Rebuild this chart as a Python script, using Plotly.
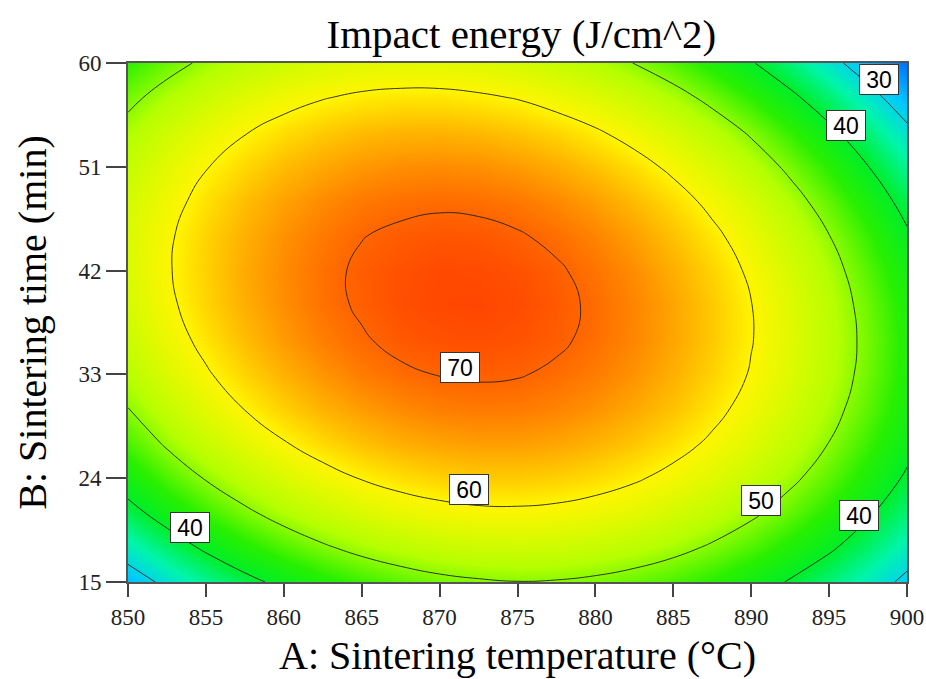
import plotly.graph_objects as go

# Grid positions
temperature = [850, 852.5, 855, 857.5, 860, 862.5, 865, 867.5, 870, 872.5, 875,
               877.5, 880, 882.5, 885, 887.5, 890, 892.5, 895, 897.5, 900]
sinter_time = [15, 18, 21, 24, 27, 30, 33, 36, 39, 42, 45, 48, 51, 54, 57, 60]

# Impact energy (J/cm^2) at each grid node (one row per sintering time)
energy_t15 = [27.0, 31.3, 35.1, 38.5, 41.4, 43.9, 46.0, 47.6, 48.8, 49.5, 49.9, 49.7, 49.1, 48.1, 46.7, 44.8, 42.4, 39.6, 36.4, 32.8, 28.7]
energy_t18 = [32.9, 37.1, 40.9, 44.2, 47.0, 49.4, 51.4, 52.9, 54.0, 54.7, 54.9, 54.7, 54.0, 52.9, 51.4, 49.4, 47.0, 44.1, 40.8, 37.1, 32.9]
energy_t21 = [38.2, 42.3, 45.9, 49.1, 51.9, 54.2, 56.1, 57.6, 58.6, 59.2, 59.3, 59.0, 58.2, 57.1, 55.4, 53.4, 50.9, 47.9, 44.5, 40.7, 36.4]
energy_t24 = [42.7, 46.8, 50.3, 53.4, 56.1, 58.4, 60.2, 61.6, 62.5, 63.0, 63.0, 62.6, 61.8, 60.5, 58.8, 56.7, 54.1, 51.0, 47.6, 43.6, 39.3]
energy_t27 = [46.6, 50.6, 54.0, 57.1, 59.7, 61.9, 63.6, 64.9, 65.7, 66.1, 66.1, 65.6, 64.7, 63.3, 61.5, 59.3, 56.6, 53.5, 49.9, 45.9, 41.5]
energy_t30 = [49.9, 53.7, 57.1, 60.1, 62.6, 64.7, 66.3, 67.5, 68.3, 68.6, 68.5, 67.9, 66.9, 65.4, 63.6, 61.2, 58.5, 55.3, 51.6, 47.6, 43.0]
energy_t33 = [52.4, 56.2, 59.5, 62.4, 64.8, 66.8, 68.4, 69.5, 70.1, 70.4, 70.2, 69.5, 68.4, 66.9, 64.9, 62.5, 59.7, 56.4, 52.7, 48.5, 43.9]
energy_t36 = [54.3, 58.0, 61.2, 64.0, 66.4, 68.3, 69.7, 70.8, 71.3, 71.5, 71.2, 70.5, 69.3, 67.7, 65.6, 63.1, 60.2, 56.8, 53.0, 48.8, 44.1]
energy_t39 = [55.5, 59.1, 62.3, 65.0, 67.2, 69.1, 70.4, 71.4, 71.9, 72.0, 71.6, 70.8, 69.5, 67.8, 65.7, 63.1, 60.1, 56.6, 52.7, 48.4, 43.6]
energy_t42 = [56.1, 59.6, 62.6, 65.3, 67.4, 69.2, 70.5, 71.3, 71.8, 71.7, 71.3, 70.4, 69.0, 67.3, 65.0, 62.4, 59.3, 55.7, 51.8, 47.3, 42.5]
energy_t45 = [56.0, 59.4, 62.4, 64.9, 67.0, 68.6, 69.9, 70.6, 71.0, 70.9, 70.3, 69.3, 67.9, 66.0, 63.7, 61.0, 57.8, 54.2, 50.1, 45.6, 40.7]
energy_t48 = [55.2, 58.5, 61.4, 63.9, 65.9, 67.4, 68.6, 69.2, 69.5, 69.3, 68.7, 67.6, 66.1, 64.1, 61.8, 58.9, 55.7, 51.9, 47.8, 43.2, 38.2]
energy_t51 = [53.7, 57.0, 59.8, 62.1, 64.1, 65.5, 66.6, 67.2, 67.4, 67.1, 66.4, 65.2, 63.6, 61.6, 59.1, 56.2, 52.8, 49.0, 44.8, 40.1, 35.0]
energy_t54 = [51.6, 54.8, 57.5, 59.8, 61.6, 63.0, 64.0, 64.5, 64.6, 64.2, 63.4, 62.2, 60.5, 58.4, 55.8, 52.8, 49.4, 45.5, 41.2, 36.4, 31.2]
energy_t57 = [48.8, 51.9, 54.5, 56.7, 58.5, 59.8, 60.7, 61.1, 61.1, 60.6, 59.8, 58.4, 56.7, 54.5, 51.8, 48.7, 45.2, 41.2, 36.8, 32.0, 26.7]
energy_t60 = [45.3, 48.3, 50.9, 53.0, 54.7, 55.9, 56.7, 57.0, 56.9, 56.4, 55.4, 54.0, 52.2, 49.9, 47.2, 44.0, 40.4, 36.3, 31.8, 26.9, 21.5]

energy = [energy_t15, energy_t18, energy_t21, energy_t24, energy_t27, energy_t30,
          energy_t33, energy_t36, energy_t39, energy_t42, energy_t45, energy_t48,
          energy_t51, energy_t54, energy_t57, energy_t60]

# Tick labels
x_ticks = [850, 855, 860, 865, 870, 875, 880, 885, 890, 895, 900]
y_ticks = [15, 24, 33, 42, 51, 60]

# Contour level labels (value and where the boxed label sits)
label_text = ["30", "40", "70", "60", "50", "40", "40"]
label_x = [898.2, 896.1, 871.3, 871.9, 890.6, 896.9, 854.0]
label_y = [58.6, 54.6, 33.6, 23.0, 22.1, 20.8, 19.7]

# Colour ramp (value -> colour)
z_min, z_max = 20, 76
ramp_values = [20, 28, 34, 40, 45, 52, 60, 66, 72, 76]
ramp_colors = ["rgb(0,90,255)", "rgb(0,200,255)", "rgb(0,245,170)", "rgb(0,238,40)",
               "rgb(40,240,0)", "rgb(180,255,0)", "rgb(255,245,0)", "rgb(255,160,0)",
               "rgb(255,70,0)", "rgb(255,40,0)"]
colorscale = [[(v - z_min) / (z_max - z_min), c] for v, c in zip(ramp_values, ramp_colors)]

serif = "Liberation Serif, Times New Roman, serif"
sans = "Liberation Sans, Arial, sans-serif"

fig = go.Figure()
fig.add_trace(go.Contour(
    x=temperature, y=sinter_time, z=energy,
    colorscale=colorscale, zmin=z_min, zmax=z_max, showscale=False,
    contours=dict(start=30, end=70, size=10, coloring="heatmap", showlabels=False),
    line=dict(color="#202020", width=0.9, smoothing=1.3),
    hovertemplate="A: %{x}<br>B: %{y}<br>Energy: %{z:.1f}<extra></extra>",
))

for t, xv, yv in zip(label_text, label_x, label_y):
    fig.add_annotation(x=xv, y=yv, text=t, showarrow=False,
                       font=dict(family=sans, size=23, color="black"),
                       bgcolor="white", bordercolor="#333333", borderwidth=1,
                       borderpad=1, width=36, height=27)

fig.update_layout(
    width=926, height=679,
    margin=dict(l=128, r=19, t=63, b=97, autoexpand=False),
    paper_bgcolor="white", plot_bgcolor="white",
    title=dict(text="Impact energy (J/cm^2)", x=0.505, xref="paper", xanchor="center",
               y=1 - 34 / 679, yref="container", yanchor="middle",
               font=dict(family=serif, size=41, color="black")),
    showlegend=False,
)
fig.update_xaxes(
    range=[850, 900], tickmode="array", tickvals=x_ticks, automargin=False,
    ticks="outside", ticklen=13, tickwidth=1.5, tickcolor="#444444",
    showline=True, mirror=True, linecolor="#555555", linewidth=2,
    showgrid=False, zeroline=False,
    tickfont=dict(family=serif, size=23, color="#222222"),
    title=dict(text="A: Sintering temperature (°C)", standoff=12,
               font=dict(family=serif, size=40, color="black")),
)
fig.update_yaxes(
    range=[15, 60], tickmode="array", tickvals=y_ticks, automargin=False,
    ticks="outside", ticklen=20, tickwidth=1.5, tickcolor="#444444",
    showline=True, mirror=True, linecolor="#555555", linewidth=2,
    showgrid=False, zeroline=False,
    tickfont=dict(family=serif, size=23, color="#222222"),
    title=dict(text="B: Sintering time (min)", standoff=19,
               font=dict(family=serif, size=40, color="black")),
)

fig.write_html("out.html",
               config={"displayModeBar": False},
               post_script="document.body.style.margin='0px';"
                           "document.body.style.overflow='hidden';")
